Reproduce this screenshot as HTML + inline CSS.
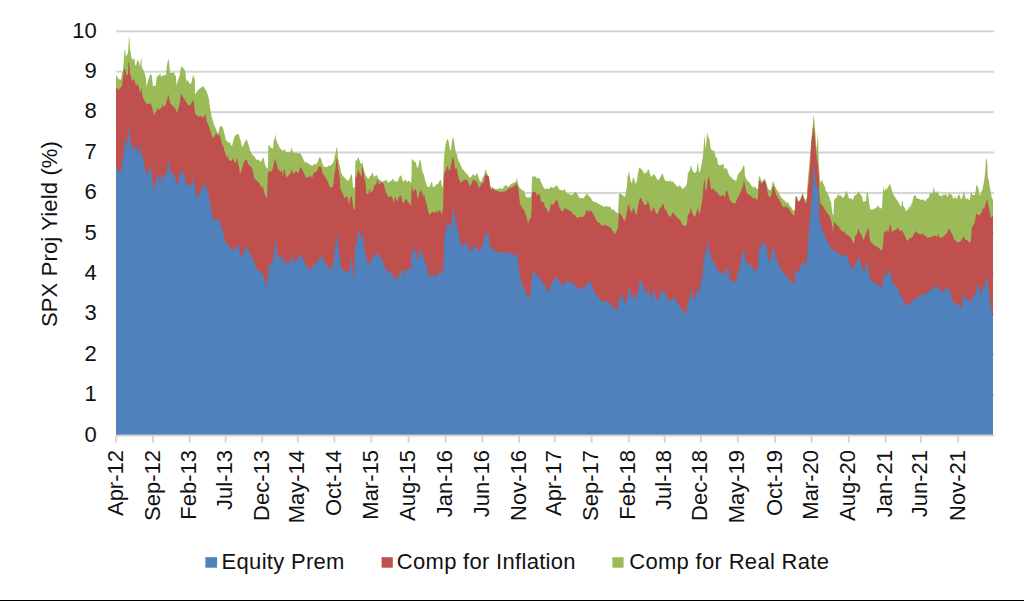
<!DOCTYPE html>
<html><head><meta charset="utf-8"><style>
html,body{margin:0;padding:0;background:#fff;width:1024px;height:601px;overflow:hidden}
svg{display:block}
</style></head><body>
<svg width="1024" height="601" viewBox="0 0 1024 601">
<rect width="1024" height="601" fill="#fff"/>
<rect x="116.2" y="393.90" width="877.8" height="2" fill="#d4d4d4"/>
<rect x="116.2" y="353.50" width="877.8" height="2" fill="#d4d4d4"/>
<rect x="116.2" y="313.10" width="877.8" height="2" fill="#d4d4d4"/>
<rect x="116.2" y="272.70" width="877.8" height="2" fill="#d4d4d4"/>
<rect x="116.2" y="232.30" width="877.8" height="2" fill="#d4d4d4"/>
<rect x="116.2" y="191.90" width="877.8" height="2" fill="#d4d4d4"/>
<rect x="116.2" y="151.50" width="877.8" height="2" fill="#d4d4d4"/>
<rect x="116.2" y="111.10" width="877.8" height="2" fill="#d4d4d4"/>
<rect x="116.2" y="70.70" width="877.8" height="2" fill="#d4d4d4"/>
<rect x="116.2" y="30.30" width="877.8" height="2" fill="#d4d4d4"/>
<path d="M116.0,435.0 L116.0,75.4 L116.0,75.4 L117.0,75.9 L118.0,78.4 L119.0,78.9 L120.0,79.4 L121.0,79.9 L122.0,72.9 L123.0,70.9 L123.5,63.9 L124.5,50.0 L125.0,49.5 L125.5,54.0 L126.0,55.9 L127.0,55.0 L128.0,53.0 L129.0,37.0 L129.5,38.0 L130.0,50.0 L130.5,51.0 L131.0,55.9 L132.0,58.9 L133.0,59.9 L134.0,57.9 L134.5,58.9 L135.0,63.9 L136.0,65.9 L137.0,60.9 L138.0,59.9 L139.0,61.9 L140.0,66.9 L141.0,58.9 L141.4,58.4 L141.9,67.9 L142.9,68.9 L143.9,70.9 L144.9,73.9 L145.9,77.9 L146.4,86.9 L147.9,80.9 L148.9,77.9 L149.9,74.9 L150.9,73.9 L151.9,75.9 L152.4,80.9 L152.9,85.9 L153.9,85.9 L154.9,85.9 L155.9,84.9 L156.4,78.9 L156.9,76.9 L157.9,75.9 L158.9,74.9 L159.9,73.9 L160.4,72.9 L160.9,76.9 L161.9,75.9 L162.9,75.9 L163.9,74.9 L164.9,74.9 L165.9,74.9 L166.9,65.9 L167.9,59.9 L168.4,59.4 L168.9,60.9 L169.4,65.9 L169.9,72.9 L170.9,72.9 L171.9,72.4 L172.9,72.9 L173.9,71.9 L174.9,74.9 L175.9,75.9 L176.4,84.9 L176.9,83.9 L177.9,79.9 L178.9,77.9 L179.9,73.9 L180.9,66.9 L181.9,66.4 L182.9,67.9 L183.9,68.9 L184.9,70.4 L185.4,71.9 L185.9,77.9 L186.9,81.9 L187.4,78.9 L187.9,80.9 L188.9,81.9 L189.9,83.9 L190.9,83.9 L191.8,80.9 L192.8,75.9 L193.3,74.9 L193.8,76.9 L194.8,78.9 L195.0,94.5 L198.0,90.0 L203.0,86.0 L205.9,90.0 L207.9,95.0 L208.9,99.0 L209.9,106.9 L211.9,117.9 L213.9,123.9 L215.9,128.9 L216.0,129.0 L217.0,132.0 L217.9,132.9 L218.0,134.0 L219.0,130.0 L219.9,126.9 L220.0,127.0 L221.0,126.0 L221.4,125.4 L222.0,126.5 L223.0,128.0 L223.9,131.9 L224.0,132.0 L225.0,135.9 L225.9,139.9 L226.0,139.9 L227.0,140.9 L228.0,141.9 L229.0,142.9 L230.0,141.9 L231.0,144.9 L232.0,145.9 L233.0,141.9 L234.0,137.9 L235.0,135.9 L236.0,135.0 L237.0,134.0 L238.0,134.0 L239.0,135.0 L240.0,138.9 L241.0,141.9 L241.9,146.9 L242.9,145.9 L243.9,143.9 L244.9,141.9 L245.9,139.9 L246.9,139.9 L247.9,142.9 L248.9,145.9 L249.9,149.9 L250.9,151.9 L251.9,153.9 L252.9,154.9 L253.9,155.9 L254.9,156.9 L255.9,158.9 L256.9,159.9 L257.9,159.4 L258.9,159.9 L259.9,160.9 L260.9,161.9 L261.9,159.9 L262.9,156.9 L263.9,158.9 L264.9,163.9 L265.9,166.9 L266.9,167.9 L267.9,168.9 L268.4,144.9 L269.9,145.9 L270.9,147.9 L271.9,147.9 L272.9,148.9 L273.9,139.9 L274.9,137.9 L275.4,134.0 L275.9,137.9 L276.9,141.9 L277.9,143.9 L278.9,145.9 L279.9,147.9 L280.9,148.9 L281.9,149.9 L282.9,150.9 L283.9,149.9 L284.9,148.9 L285.9,151.9 L286.9,151.9 L287.9,151.9 L288.9,152.4 L289.9,151.9 L290.9,150.9 L291.8,146.9 L292.8,151.9 L293.8,152.9 L294.8,152.9 L295.8,151.9 L296.8,152.9 L297.8,153.9 L298.8,152.9 L299.8,152.9 L300.8,153.9 L301.8,155.9 L302.8,157.9 L303.8,159.9 L304.8,161.9 L305.8,162.9 L306.8,161.9 L307.8,162.9 L308.8,163.9 L309.8,164.4 L310.8,164.9 L311.8,165.4 L312.8,165.9 L313.8,163.9 L314.8,163.9 L315.8,164.9 L316.0,163.9 L317.0,162.9 L318.0,160.9 L319.0,157.9 L320.0,156.9 L321.0,158.9 L322.0,161.9 L323.0,164.9 L324.0,166.9 L325.0,166.9 L326.0,166.9 L327.0,166.9 L328.0,165.9 L328.5,164.9 L329.0,165.9 L330.0,165.9 L331.0,164.9 L332.0,163.9 L333.0,162.9 L334.0,159.9 L335.0,154.9 L336.0,151.0 L336.5,147.0 L337.2,148.0 L338.0,157.9 L339.0,162.9 L340.0,165.9 L341.0,171.9 L341.9,173.9 L342.9,175.9 L343.9,176.9 L344.9,177.9 L345.9,178.9 L346.9,179.9 L347.9,180.9 L348.9,179.9 L349.9,177.9 L350.9,174.9 L351.4,173.9 L352.1,175.9 L352.9,186.9 L353.9,187.9 L354.9,186.9 L355.4,159.9 L356.4,160.9 L357.4,158.9 L358.4,156.9 L359.4,159.9 L360.4,162.9 L361.4,163.9 L362.4,161.9 L363.4,168.9 L364.4,171.9 L365.4,174.9 L366.4,175.9 L367.4,177.9 L368.4,178.9 L369.4,176.9 L370.4,175.9 L371.4,174.9 L372.4,171.9 L373.4,174.9 L374.4,176.9 L375.4,175.9 L376.4,174.9 L377.4,175.9 L378.4,178.9 L379.4,179.9 L380.4,179.9 L381.4,180.9 L382.4,181.9 L383.4,180.9 L384.4,180.9 L385.4,179.9 L386.4,179.9 L387.4,180.9 L388.4,182.9 L389.4,181.9 L390.4,180.9 L391.3,180.9 L392.3,178.9 L393.3,178.9 L394.3,180.9 L395.3,181.9 L396.3,180.9 L397.3,181.9 L398.3,179.9 L399.3,176.9 L400.3,175.9 L401.3,174.9 L402.3,179.9 L403.3,181.9 L404.3,180.9 L405.3,178.9 L406.3,180.9 L407.3,181.9 L408.3,180.9 L409.3,180.9 L410.3,181.9 L411.3,182.9 L411.8,159.9 L412.8,158.9 L413.8,160.9 L414.8,161.9 L415.8,161.9 L416.0,163.9 L417.0,166.9 L418.0,167.9 L419.0,162.9 L420.0,158.9 L421.0,162.9 L422.0,169.9 L423.0,172.9 L424.0,174.9 L425.0,179.9 L426.0,182.9 L427.0,185.9 L428.0,186.9 L429.0,186.9 L430.0,185.9 L431.0,182.9 L432.0,181.9 L433.0,186.9 L434.0,186.9 L435.0,185.9 L436.0,184.9 L437.0,183.9 L438.0,183.9 L439.0,181.9 L440.0,179.9 L441.0,179.9 L441.9,185.9 L442.9,186.9 L443.9,159.9 L444.9,149.0 L445.9,143.0 L446.9,140.0 L447.9,139.0 L448.9,143.0 L449.9,149.0 L450.9,151.0 L451.9,142.0 L452.9,137.0 L453.9,140.0 L454.9,147.0 L455.9,153.0 L456.9,154.0 L457.9,158.9 L458.9,161.9 L459.9,162.9 L460.9,165.9 L461.9,167.9 L462.9,169.9 L463.9,169.9 L464.9,171.9 L465.9,172.9 L466.9,173.9 L467.9,174.9 L468.9,176.9 L469.9,177.9 L470.9,176.9 L471.9,175.9 L472.9,173.9 L473.9,174.9 L474.9,175.9 L475.9,174.9 L476.9,172.9 L477.9,174.9 L478.9,177.9 L479.9,180.9 L480.9,181.9 L481.9,179.9 L482.9,176.9 L483.9,175.9 L484.9,171.9 L485.9,168.9 L486.9,173.9 L487.9,173.9 L488.9,177.9 L489.9,185.9 L490.9,186.9 L491.8,187.9 L492.8,186.9 L493.8,187.9 L494.8,188.9 L495.8,188.9 L496.8,188.9 L497.8,188.9 L498.8,188.9 L499.8,187.9 L500.8,187.9 L501.8,188.9 L502.8,188.9 L503.8,186.9 L504.8,185.9 L505.8,184.9 L506.8,185.9 L507.8,186.9 L508.8,185.9 L509.8,185.9 L510.8,183.9 L511.8,183.9 L512.8,182.9 L513.8,182.9 L514.8,181.9 L515.8,181.9 L516.0,181.0 L517.0,178.0 L518.0,184.0 L519.0,187.0 L520.0,188.0 L521.0,189.0 L522.0,190.0 L523.0,191.0 L524.0,190.0 L525.0,193.9 L526.0,196.9 L527.0,196.9 L528.0,197.9 L529.0,196.9 L530.0,197.9 L531.0,195.9 L531.5,194.9 L532.0,177.0 L533.0,176.5 L534.0,176.5 L535.0,176.5 L536.0,176.5 L537.0,179.0 L538.0,178.0 L539.0,178.0 L540.0,179.0 L541.0,182.0 L541.9,184.0 L542.9,186.0 L543.9,188.0 L544.9,189.0 L545.9,189.0 L546.9,188.0 L547.9,189.0 L548.9,189.0 L549.9,188.0 L550.9,186.0 L551.9,188.0 L552.9,188.0 L553.9,187.0 L554.9,187.0 L555.9,186.0 L556.9,185.0 L557.9,187.0 L558.9,189.0 L559.9,190.0 L560.9,190.0 L561.9,190.0 L562.9,191.0 L563.9,190.0 L564.9,189.0 L565.9,192.0 L566.9,193.0 L567.9,193.9 L568.9,193.9 L569.9,193.9 L570.9,194.9 L571.9,194.9 L572.9,193.9 L573.9,193.0 L574.9,192.0 L575.9,192.0 L576.9,193.0 L577.9,194.9 L578.9,196.9 L579.9,197.9 L580.9,197.9 L581.9,197.9 L582.9,197.9 L583.9,197.9 L584.9,195.9 L585.9,194.9 L586.9,193.0 L587.9,194.9 L588.9,195.9 L589.9,196.9 L590.9,197.9 L591.8,199.9 L592.8,200.9 L593.8,201.9 L594.8,201.9 L595.8,201.9 L596.8,202.9 L597.8,203.4 L598.8,203.9 L599.8,204.4 L600.8,204.9 L601.8,205.4 L602.8,205.9 L603.8,206.4 L604.8,206.9 L605.8,205.9 L606.8,205.9 L607.8,206.9 L608.8,206.9 L609.8,205.9 L610.8,207.9 L611.8,209.9 L612.8,208.9 L613.8,209.9 L614.8,210.9 L615.8,211.9 L616.0,212.9 L617.0,211.9 L618.0,213.9 L619.0,194.0 L620.0,193.5 L621.0,194.0 L622.0,195.0 L623.0,195.5 L624.0,196.0 L625.0,197.0 L626.0,192.0 L627.0,186.0 L627.5,175.9 L628.5,173.9 L629.2,170.9 L630.0,177.9 L631.0,181.9 L632.0,182.9 L633.0,176.9 L634.0,178.9 L635.0,181.9 L636.0,183.9 L637.0,179.9 L638.0,172.9 L639.0,167.9 L640.0,167.4 L641.0,168.9 L641.9,169.9 L642.9,170.9 L643.9,172.9 L644.9,173.9 L645.9,171.9 L646.9,172.9 L647.9,168.9 L648.9,169.9 L649.9,173.9 L650.9,175.9 L651.9,176.9 L652.9,174.9 L653.9,173.9 L654.9,174.9 L655.9,176.9 L656.9,178.9 L657.9,179.9 L658.9,179.9 L659.9,177.9 L660.9,175.9 L661.9,173.9 L662.9,173.9 L663.9,177.9 L664.9,179.9 L665.9,180.9 L666.9,180.9 L667.9,180.9 L668.9,181.9 L669.9,179.9 L670.9,180.9 L671.9,181.9 L672.9,180.9 L673.9,182.9 L674.9,183.9 L675.9,184.9 L676.9,185.9 L677.9,186.9 L678.9,185.9 L679.9,184.9 L680.9,186.9 L681.9,187.9 L682.9,188.9 L683.9,187.9 L684.9,186.9 L685.9,185.9 L686.9,183.9 L687.9,172.9 L688.9,171.9 L689.9,169.9 L690.9,164.9 L691.8,167.9 L692.8,170.9 L693.8,172.9 L694.8,171.9 L695.8,172.9 L696.8,169.9 L697.6,162.9 L698.3,163.9 L698.8,171.9 L699.8,171.9 L700.8,167.9 L701.8,162.9 L702.8,157.9 L703.8,145.0 L704.3,135.0 L704.8,140.0 L705.8,149.0 L706.8,135.0 L707.3,132.0 L707.8,136.0 L708.8,138.0 L709.8,141.0 L710.8,149.0 L711.8,150.0 L712.8,151.0 L713.8,150.0 L714.8,153.0 L715.8,157.9 L716.0,157.0 L717.0,158.0 L718.0,164.0 L719.0,165.0 L720.0,165.5 L721.0,165.0 L722.0,164.5 L723.0,164.0 L723.5,163.0 L724.0,168.0 L725.0,169.0 L726.0,168.0 L727.0,169.0 L728.0,172.0 L729.0,175.0 L730.0,175.9 L731.0,176.9 L732.0,177.9 L733.0,178.9 L734.0,179.9 L735.0,179.9 L736.0,180.9 L737.0,177.9 L738.0,174.0 L739.0,173.0 L740.0,172.0 L741.0,171.0 L741.9,169.0 L742.9,167.0 L743.9,165.0 L744.4,166.0 L744.9,175.9 L745.9,177.9 L746.9,179.9 L747.9,180.9 L748.9,181.9 L749.9,182.9 L750.9,184.9 L751.9,185.9 L752.9,186.9 L753.9,187.9 L754.9,185.9 L755.9,187.9 L756.9,188.9 L757.9,188.9 L758.9,176.9 L759.9,175.9 L760.9,179.9 L761.9,180.9 L762.9,181.9 L763.9,179.9 L764.9,177.9 L765.9,181.9 L766.9,184.9 L767.9,187.9 L768.9,189.9 L769.9,189.9 L770.9,189.9 L771.9,185.9 L772.9,180.9 L773.9,182.9 L774.9,185.9 L775.9,187.9 L776.9,189.9 L777.9,190.9 L778.9,192.9 L779.9,194.9 L780.9,196.9 L781.9,197.9 L782.9,198.9 L783.9,199.9 L784.9,200.9 L785.9,201.9 L786.9,202.9 L787.9,201.9 L788.9,203.9 L789.9,205.9 L790.9,206.9 L791.8,207.9 L792.8,209.9 L793.8,210.9 L794.8,209.9 L795.8,195.9 L796.8,196.9 L797.8,199.9 L798.8,200.9 L799.8,199.9 L800.8,197.9 L801.8,194.9 L802.8,191.9 L803.8,196.9 L804.8,198.9 L805.8,199.9 L806.8,197.9 L807.8,179.9 L808.8,170.0 L809.6,161.6 L811.2,141.3 L812.7,125.6 L813.8,113.9 L815.1,128.8 L816.6,150.7 L817.9,131.9 L819.0,167.9 L820.0,181.0 L821.0,182.0 L822.0,179.0 L823.0,183.0 L824.0,185.0 L825.0,187.0 L826.0,192.0 L827.0,191.0 L828.0,195.0 L829.0,196.0 L830.0,199.9 L831.0,201.9 L832.0,209.9 L832.8,214.9 L833.5,214.9 L834.0,199.9 L835.0,198.9 L836.0,197.9 L837.0,197.0 L838.0,194.0 L839.0,195.0 L840.0,196.0 L841.0,195.0 L841.9,197.0 L842.9,197.9 L843.9,197.0 L844.9,195.0 L845.9,191.0 L846.9,192.0 L847.9,195.0 L848.9,197.9 L849.9,198.9 L850.9,197.9 L851.9,198.9 L852.9,199.9 L853.9,197.0 L854.9,195.0 L855.9,195.0 L856.9,194.0 L857.9,193.0 L858.9,191.0 L859.9,194.0 L860.9,195.0 L861.9,196.0 L862.9,200.9 L863.9,201.9 L864.9,200.9 L865.9,200.9 L866.9,192.0 L867.9,193.0 L868.9,200.9 L869.9,207.9 L870.9,209.9 L871.9,208.9 L872.9,209.9 L873.9,207.9 L874.9,208.9 L875.9,207.9 L876.9,206.9 L877.9,204.9 L878.9,206.9 L879.9,207.9 L880.9,207.9 L881.9,208.9 L882.9,192.0 L883.4,186.0 L883.9,190.0 L884.9,191.0 L885.9,188.0 L886.9,190.0 L887.9,187.0 L888.9,186.0 L889.9,183.0 L890.9,187.0 L891.8,190.0 L892.8,193.0 L893.8,195.0 L894.8,197.0 L895.8,197.9 L896.8,199.9 L897.8,200.9 L898.8,202.9 L899.8,204.9 L900.0,204.9 L900.8,206.9 L901.0,205.9 L901.8,204.9 L902.0,200.9 L902.8,200.9 L903.0,205.9 L903.8,205.9 L904.0,206.9 L904.8,207.9 L905.0,207.9 L905.8,210.9 L906.0,209.9 L906.8,210.9 L907.8,208.9 L908.0,209.9 L908.8,206.9 L909.0,206.9 L909.8,205.9 L910.0,208.9 L910.8,204.9 L911.0,205.9 L911.8,201.9 L912.0,203.9 L912.8,198.9 L913.0,198.9 L913.8,196.0 L914.0,195.9 L914.8,195.0 L915.0,194.9 L915.8,196.0 L916.0,196.9 L917.0,197.9 L918.0,198.9 L919.0,198.9 L920.0,198.9 L921.0,199.9 L922.0,199.9 L923.0,198.9 L924.0,199.9 L925.0,200.9 L925.9,200.9 L926.9,197.9 L927.9,198.9 L928.9,196.9 L929.9,192.9 L930.9,192.9 L931.9,193.9 L932.9,191.9 L933.9,186.9 L934.9,191.9 L935.9,192.9 L936.9,191.9 L937.9,190.9 L938.9,194.9 L939.9,195.9 L940.9,194.9 L941.9,196.9 L942.9,193.9 L943.9,194.9 L944.9,194.9 L945.9,192.9 L946.9,195.9 L947.9,196.9 L948.9,191.9 L949.9,193.9 L950.9,194.9 L951.9,193.9 L952.9,197.9 L953.9,198.9 L954.9,195.9 L955.9,197.9 L956.9,198.9 L957.9,195.9 L958.9,193.9 L959.9,195.9 L960.9,198.9 L961.9,198.9 L962.9,194.9 L963.9,190.9 L964.9,195.9 L965.9,198.9 L966.9,198.9 L967.9,197.9 L968.9,199.9 L969.9,199.9 L970.9,191.9 L971.9,193.9 L972.9,194.9 L973.9,194.9 L974.9,194.9 L975.8,189.9 L976.3,184.9 L977.3,185.9 L978.3,187.9 L979.3,193.9 L980.3,195.9 L981.3,191.9 L982.3,189.9 L983.3,184.9 L984.3,179.9 L985.3,170.0 L986.0,158.0 L986.8,160.0 L987.3,163.0 L987.8,177.9 L988.8,179.9 L989.8,186.9 L990.8,191.9 L991.8,197.9 L992.8,198.9 L993.0,200.0 L993.0,200.0 L993.0,435.0 Z" fill="#9bbb59"/>
<path d="M116.0,435.0 L116.0,86.9 L116.0,86.9 L117.0,87.9 L118.0,89.9 L122.0,85.9 L123.0,77.9 L124.0,69.9 L125.0,67.9 L126.0,72.9 L127.0,75.9 L128.0,73.9 L128.5,62.9 L129.0,61.9 L129.5,63.9 L130.0,74.0 L131.0,77.0 L132.0,81.0 L133.0,80.0 L134.0,79.0 L135.0,82.0 L136.0,85.9 L137.0,84.0 L138.0,85.0 L139.0,86.9 L140.0,92.9 L141.0,89.9 L141.5,86.9 L142.0,92.9 L143.0,97.9 L144.0,99.9 L145.0,100.9 L146.0,102.9 L147.0,103.9 L148.0,103.9 L149.0,103.9 L150.0,102.9 L151.0,103.9 L152.0,106.9 L153.0,110.9 L154.0,115.9 L155.0,112.9 L155.9,111.9 L156.9,109.9 L157.9,107.9 L158.9,109.9 L159.9,108.9 L160.9,107.9 L161.9,106.9 L162.9,103.9 L163.9,106.9 L164.9,105.9 L165.9,103.9 L166.9,99.9 L167.9,96.9 L168.4,93.9 L168.9,96.9 L169.9,101.9 L170.9,103.9 L171.9,104.9 L172.9,105.9 L173.9,106.9 L174.9,107.9 L175.9,109.9 L176.9,112.9 L177.9,109.9 L178.9,106.9 L179.9,101.9 L180.9,93.9 L181.9,94.9 L182.9,96.9 L183.9,97.9 L184.9,99.9 L185.9,101.9 L186.9,102.9 L187.9,104.9 L188.9,104.9 L189.9,105.9 L190.9,103.9 L191.9,101.9 L192.9,99.9 L193.9,102.9 L194.9,112.9 L195.9,114.9 L196.9,114.9 L197.9,115.9 L198.9,116.9 L199.9,115.9 L200.9,115.9 L201.9,116.9 L202.9,117.9 L203.9,116.9 L204.9,113.9 L205.8,114.9 L206.9,121.9 L207.9,123.9 L209.9,128.9 L211.9,135.9 L213.9,137.9 L216.0,133.0 L216.9,133.9 L217.0,134.0 L218.0,135.0 L218.9,135.9 L219.0,134.0 L220.0,135.9 L221.0,139.9 L222.0,143.9 L223.0,146.9 L223.5,144.9 L224.0,149.9 L225.0,151.9 L226.0,155.9 L227.0,157.9 L227.5,153.9 L228.0,156.9 L229.0,159.9 L230.0,160.9 L231.0,160.9 L232.0,159.9 L233.0,157.9 L234.0,160.9 L235.0,162.9 L236.0,161.9 L237.0,156.9 L238.0,162.9 L239.0,166.9 L239.8,171.9 L240.0,174.0 L241.0,172.0 L242.0,169.0 L243.0,165.0 L244.0,162.0 L245.0,161.0 L246.0,159.5 L247.0,160.0 L248.0,164.0 L249.0,165.0 L250.0,166.0 L251.0,167.0 L252.0,168.0 L253.0,172.0 L254.0,177.9 L255.0,178.9 L256.0,179.9 L257.0,180.9 L258.0,181.9 L259.0,182.9 L260.0,183.9 L261.0,186.9 L262.0,187.9 L263.0,185.9 L264.0,191.9 L265.0,193.9 L265.9,196.9 L266.9,198.9 L267.9,173.0 L268.9,172.0 L269.9,171.0 L270.9,171.5 L271.9,171.0 L272.9,168.0 L273.9,164.0 L274.9,158.0 L275.9,162.0 L276.9,165.0 L277.9,169.0 L278.9,170.0 L279.9,171.0 L280.9,172.0 L281.9,170.0 L282.9,175.9 L283.9,169.0 L284.9,170.0 L285.9,177.9 L286.9,176.9 L287.9,175.9 L288.9,175.0 L289.9,174.0 L290.9,173.0 L291.4,168.0 L291.9,170.0 L292.9,173.0 L293.9,174.0 L294.9,172.0 L295.9,171.0 L296.9,172.0 L297.9,174.0 L298.9,172.0 L299.9,168.0 L300.9,167.0 L301.9,169.0 L302.9,171.0 L303.9,173.0 L304.9,175.0 L305.9,177.9 L306.9,177.9 L307.9,175.9 L308.9,176.9 L309.9,176.9 L310.9,175.0 L311.9,178.9 L312.9,175.0 L313.9,172.0 L314.9,173.0 L315.8,172.0 L316.8,171.0 L317.8,169.0 L318.8,167.0 L319.8,166.0 L320.8,167.0 L321.8,169.0 L322.8,174.0 L323.8,175.0 L324.8,175.9 L325.8,177.9 L326.8,179.9 L327.8,180.9 L328.8,183.9 L329.8,186.9 L330.8,187.9 L331.8,186.9 L332.8,186.9 L333.5,183.9 L333.8,179.9 L334.5,170.9 L334.8,175.0 L335.5,167.9 L335.8,166.0 L336.5,157.9 L336.8,158.0 L337.2,158.9 L337.8,162.0 L338.0,169.9 L338.8,170.0 L339.0,177.9 L339.8,173.0 L340.0,185.9 L340.0,188.9 L341.0,187.9 L341.0,189.9 L342.0,191.9 L343.0,193.9 L344.0,196.9 L345.0,197.9 L346.0,196.9 L347.0,195.9 L348.0,198.9 L349.0,204.9 L350.0,198.9 L351.0,195.9 L352.0,196.9 L353.0,205.9 L354.0,208.9 L355.0,209.9 L355.5,178.0 L356.5,177.0 L357.5,172.0 L358.5,170.0 L359.5,173.0 L360.5,175.0 L361.5,177.0 L362.5,165.0 L363.5,170.0 L364.5,179.0 L365.4,180.9 L366.4,192.9 L367.4,193.9 L368.4,193.9 L369.4,187.9 L370.4,192.9 L371.4,191.9 L372.4,190.9 L373.4,188.9 L374.4,184.9 L375.4,184.9 L376.4,183.9 L377.4,180.0 L377.9,179.0 L378.9,183.9 L379.9,183.9 L380.9,182.9 L381.9,181.9 L382.9,182.9 L383.9,184.9 L384.9,188.9 L385.9,191.9 L386.9,193.9 L387.9,195.9 L388.9,197.9 L389.9,195.9 L390.9,195.9 L391.9,196.9 L392.9,198.9 L393.9,203.9 L394.9,196.9 L395.9,196.9 L396.9,201.9 L397.9,199.9 L398.9,196.9 L399.9,195.9 L400.9,194.9 L401.9,198.9 L402.9,202.9 L403.9,202.9 L404.9,199.9 L405.9,198.9 L406.9,199.9 L407.9,201.9 L408.9,202.9 L409.9,203.9 L410.9,205.9 L411.7,184.9 L412.4,187.9 L413.4,191.9 L414.4,189.9 L415.3,188.9 L416.3,189.9 L417.3,196.9 L418.3,198.9 L419.3,192.9 L420.3,190.9 L421.3,189.9 L422.3,192.9 L423.3,195.9 L424.3,194.9 L425.3,199.9 L426.3,202.9 L427.3,206.9 L428.3,211.9 L429.3,214.9 L430.3,213.9 L431.3,212.9 L432.3,211.9 L433.3,211.9 L434.3,212.9 L435.3,211.9 L436.3,210.9 L437.3,212.9 L438.3,210.9 L439.3,209.9 L440.3,211.3 L441.9,214.5 L443.1,208.2 L443.9,175.9 L444.9,171.9 L445.9,169.9 L446.9,166.9 L447.9,165.9 L448.9,169.9 L449.9,170.9 L450.9,165.9 L451.9,159.9 L452.9,155.9 L453.9,159.9 L454.9,167.9 L455.9,168.9 L456.9,167.9 L457.9,174.9 L458.9,178.9 L459.9,180.9 L460.9,182.9 L461.9,181.9 L462.9,179.9 L463.9,180.9 L464.9,179.9 L465.9,178.9 L466.9,179.9 L467.9,181.9 L468.9,183.9 L469.9,185.9 L470.9,184.9 L471.9,182.9 L472.9,179.9 L473.9,178.9 L474.9,181.9 L475.9,179.9 L476.9,181.9 L477.9,184.9 L478.9,187.9 L479.9,186.9 L480.9,184.9 L481.9,182.9 L482.9,182.9 L483.9,181.9 L484.9,175.9 L485.9,173.9 L486.9,175.9 L487.9,175.9 L488.9,176.9 L489.9,183.9 L490.9,188.9 L491.8,189.9 L491.9,187.9 L493.5,189.4 L495.1,190.2 L496.6,191.0 L498.2,191.0 L499.8,192.6 L501.3,191.8 L502.9,191.8 L504.5,191.8 L506.0,191.0 L507.6,189.4 L509.1,187.9 L510.7,187.9 L512.3,187.1 L513.8,186.3 L515.4,185.5 L516.0,183.0 L517.0,184.0 L518.0,187.0 L519.0,193.9 L520.0,203.9 L521.0,204.9 L522.0,207.9 L523.0,208.9 L524.0,209.9 L525.0,211.9 L526.0,215.9 L527.0,217.9 L528.0,224.9 L529.0,219.9 L530.0,218.9 L531.0,216.9 L531.5,209.9 L532.0,193.0 L533.0,192.0 L534.0,192.0 L535.0,192.0 L536.0,193.0 L537.0,195.9 L538.0,193.9 L539.0,193.9 L540.0,194.9 L541.0,201.9 L541.9,201.9 L542.9,201.9 L543.9,202.9 L544.9,206.9 L545.9,207.9 L546.9,208.9 L547.9,211.9 L548.9,211.9 L549.9,208.9 L550.9,203.9 L551.9,203.9 L552.9,204.9 L553.9,203.9 L554.9,201.9 L555.9,200.9 L556.9,198.9 L557.9,201.9 L558.9,205.9 L559.9,207.9 L560.9,209.9 L561.9,211.9 L562.9,210.9 L563.9,209.9 L564.9,206.9 L565.9,208.9 L566.9,208.9 L567.9,209.9 L568.9,209.9 L569.9,210.9 L570.9,211.9 L571.9,211.9 L572.9,214.9 L573.9,213.9 L574.9,214.9 L575.9,215.9 L576.9,217.9 L577.9,217.9 L578.9,216.9 L579.9,216.9 L580.9,216.9 L581.9,216.9 L582.9,216.9 L583.9,215.9 L584.9,214.9 L585.9,210.9 L586.9,209.9 L587.9,210.9 L588.9,211.9 L589.9,210.9 L590.9,209.9 L591.8,211.9 L592.8,212.9 L593.8,214.9 L594.8,216.9 L595.8,218.9 L596.8,220.9 L597.8,221.9 L598.8,222.9 L599.8,222.9 L600.8,223.9 L601.8,225.9 L602.8,225.9 L603.8,224.9 L604.8,224.9 L605.8,224.9 L606.8,225.9 L607.8,225.9 L608.8,226.9 L609.8,226.9 L610.8,227.9 L612.8,231.2 L615.2,234.3 L616.0,231.9 L617.0,229.9 L618.0,226.9 L619.0,212.9 L620.0,212.9 L621.0,214.9 L622.0,215.9 L623.0,218.9 L624.0,219.9 L625.0,220.9 L626.0,215.9 L627.0,210.9 L628.0,205.9 L629.0,203.9 L630.0,209.9 L631.0,210.9 L632.0,212.9 L633.0,207.9 L634.0,208.9 L635.0,211.9 L636.0,214.9 L637.0,212.9 L638.0,205.9 L639.0,201.0 L640.0,198.0 L641.0,198.0 L641.9,200.0 L642.9,201.9 L643.9,203.9 L644.9,204.9 L645.9,204.9 L646.9,203.9 L647.9,200.0 L648.9,203.9 L649.9,207.9 L650.9,210.9 L651.9,211.9 L652.9,206.9 L653.9,207.9 L654.9,209.9 L655.9,212.9 L656.9,213.9 L657.9,212.9 L658.9,210.9 L659.9,207.9 L660.9,206.9 L661.9,205.9 L662.9,202.9 L663.9,205.9 L664.9,208.9 L665.9,209.9 L666.9,211.9 L667.9,213.9 L668.9,215.9 L669.9,216.9 L670.9,215.9 L671.9,213.9 L672.9,211.9 L673.9,213.9 L674.9,214.9 L675.9,215.9 L676.9,216.9 L677.9,218.9 L678.9,218.9 L679.9,219.9 L680.9,220.9 L681.9,223.9 L682.9,224.9 L683.9,225.9 L684.9,224.9 L685.9,226.9 L686.9,223.9 L687.9,214.9 L688.9,213.9 L689.9,211.9 L690.9,206.9 L691.8,211.9 L692.8,213.9 L693.8,215.9 L694.8,216.9 L695.8,214.9 L696.8,210.9 L697.8,207.9 L698.8,211.9 L699.8,213.9 L700.8,207.9 L701.8,202.9 L702.8,196.0 L703.8,182.0 L704.3,179.0 L704.8,181.0 L705.8,191.0 L706.8,189.0 L707.8,179.0 L708.8,176.0 L709.8,181.0 L710.8,188.0 L711.8,190.0 L712.8,189.0 L713.8,188.0 L714.8,191.0 L715.8,192.0 L716.0,190.9 L717.0,191.9 L718.0,193.9 L719.0,194.9 L720.0,195.9 L721.0,195.9 L722.0,195.9 L723.0,193.9 L724.0,195.9 L725.0,196.9 L726.0,189.9 L727.0,190.9 L728.0,192.9 L729.0,197.9 L730.0,199.9 L731.0,200.9 L732.0,202.9 L733.0,202.9 L734.0,202.9 L735.0,203.9 L736.0,201.9 L737.0,198.9 L738.0,196.9 L739.0,195.9 L740.0,192.9 L741.0,190.9 L741.9,187.9 L742.9,186.9 L743.9,179.9 L744.9,184.9 L745.9,189.9 L746.9,192.9 L747.9,193.9 L748.9,194.9 L749.9,194.9 L750.9,195.9 L751.9,196.9 L752.9,197.9 L753.9,198.9 L754.9,196.9 L755.9,198.9 L756.9,199.9 L757.9,197.9 L758.9,180.9 L759.9,180.9 L760.9,182.9 L761.9,183.9 L762.9,181.9 L763.9,179.9 L764.9,180.9 L765.9,182.9 L766.9,188.9 L767.9,193.9 L768.9,196.9 L769.9,196.9 L770.9,195.9 L771.9,191.9 L772.9,185.9 L773.9,186.9 L774.9,189.9 L775.9,193.9 L776.9,195.9 L777.9,197.9 L778.9,198.9 L779.9,200.9 L780.9,202.9 L781.9,204.9 L782.9,206.9 L783.9,206.9 L784.9,205.9 L785.9,207.9 L786.9,205.9 L787.9,207.9 L788.9,208.9 L789.9,209.9 L790.0,210.3 L791.6,213.5 L793.2,215.0 L794.4,215.8 L794.8,209.9 L795.8,195.9 L796.8,196.9 L797.8,200.9 L798.8,201.9 L799.8,200.9 L800.8,198.9 L801.8,195.9 L802.8,194.9 L803.8,198.9 L804.8,201.9 L805.8,202.9 L806.8,201.9 L807.8,187.9 L808.8,181.9 L809.6,172.6 L811.2,142.8 L812.7,131.9 L813.8,125.6 L815.1,141.3 L816.6,156.9 L817.9,164.7 L819.0,175.7 L819.0,187.0 L820.0,202.0 L821.0,204.0 L822.0,205.0 L823.0,206.0 L824.0,208.0 L825.0,210.0 L826.0,211.0 L827.0,213.0 L828.0,214.0 L829.0,215.0 L830.0,217.0 L831.0,220.0 L832.0,224.0 L833.0,231.9 L834.0,221.0 L835.0,223.0 L836.0,224.0 L837.0,225.0 L838.0,225.9 L839.0,226.9 L840.0,228.9 L841.0,229.9 L841.9,230.9 L842.9,231.9 L843.9,230.9 L844.9,232.9 L845.9,233.9 L846.9,234.9 L847.9,234.9 L848.9,235.9 L849.9,236.9 L850.9,237.9 L851.9,239.9 L852.9,241.9 L853.9,243.9 L854.9,236.9 L855.9,234.9 L856.9,233.9 L857.9,230.9 L858.9,227.9 L859.9,233.9 L860.9,232.9 L861.9,235.9 L862.9,238.9 L863.9,239.9 L864.9,235.9 L865.9,232.9 L866.9,231.9 L867.9,226.9 L868.9,229.9 L869.9,239.9 L870.9,241.9 L871.9,242.9 L872.9,243.9 L873.9,244.9 L874.9,245.9 L875.9,245.9 L876.9,246.9 L877.9,246.9 L878.9,247.9 L879.9,248.9 L880.9,249.9 L881.9,250.9 L882.9,245.9 L883.9,231.9 L884.9,230.9 L885.9,231.9 L886.9,228.9 L887.9,232.9 L888.9,229.9 L889.9,224.0 L890.9,226.9 L891.8,230.9 L892.8,231.9 L893.8,229.9 L894.8,229.9 L895.8,229.9 L896.8,228.9 L897.8,226.9 L898.8,228.9 L899.8,231.9 L900.0,230.9 L901.0,229.9 L902.0,230.9 L903.0,231.9 L904.0,233.9 L905.0,235.9 L906.0,238.9 L907.0,239.9 L908.0,240.9 L909.0,238.9 L910.0,237.9 L911.0,237.9 L912.0,236.9 L913.0,235.9 L914.0,233.9 L915.0,231.9 L916.0,230.9 L917.0,232.9 L918.0,232.9 L919.0,233.9 L920.0,233.9 L921.0,233.9 L922.0,234.9 L923.0,232.9 L924.0,234.9 L925.0,235.9 L925.9,235.9 L926.9,236.9 L927.9,237.9 L928.9,236.9 L929.9,237.9 L930.9,236.9 L931.9,236.9 L932.9,235.9 L933.9,235.9 L934.9,234.9 L935.9,235.9 L936.9,236.9 L937.9,233.9 L938.9,235.9 L939.9,237.9 L940.9,236.9 L941.9,237.9 L942.9,236.9 L943.9,235.9 L944.9,234.9 L945.9,233.9 L946.9,232.9 L947.9,230.9 L948.9,227.9 L949.9,229.9 L950.9,231.9 L951.9,233.9 L952.9,235.9 L953.9,238.9 L954.9,239.9 L955.9,240.9 L956.9,241.9 L957.9,241.9 L958.9,241.9 L959.9,241.9 L960.9,240.9 L961.9,238.9 L962.9,237.9 L963.9,235.9 L964.9,238.9 L965.9,239.9 L966.9,239.9 L967.9,240.9 L968.9,241.9 L969.9,242.9 L970.9,239.9 L971.9,226.9 L972.9,225.9 L973.9,223.9 L974.9,221.9 L975.8,215.9 L976.8,213.0 L977.8,215.0 L978.8,215.0 L979.8,215.0 L980.8,214.0 L981.8,212.0 L982.8,208.0 L983.8,209.0 L984.8,207.0 L985.8,203.0 L986.8,200.0 L987.3,200.0 L987.8,203.0 L988.8,207.0 L989.8,212.0 L990.8,217.9 L991.8,216.9 L992.8,215.9 L993.0,217.3 L993.0,217.3 L993.0,435.0 Z" fill="#c0504d"/>
<path d="M116.0,435.0 L116.0,166.9 L116.0,166.9 L117.0,167.9 L118.0,168.9 L119.0,171.9 L120.0,171.9 L121.0,171.9 L122.0,162.9 L123.0,158.9 L124.0,152.9 L125.0,137.0 L126.0,139.0 L127.0,144.9 L128.0,140.0 L129.0,122.0 L130.0,137.0 L131.0,144.9 L132.0,145.9 L133.0,149.9 L134.0,143.9 L135.0,146.9 L136.0,152.9 L137.0,145.9 L138.0,147.9 L139.0,152.9 L140.0,154.9 L141.0,144.9 L141.4,143.9 L141.9,153.9 L142.9,157.9 L143.9,161.9 L144.9,166.9 L145.9,172.9 L146.9,174.9 L147.9,171.9 L148.9,169.9 L149.1,171.9 L150.0,167.0 L151.0,166.0 L152.0,177.0 L153.0,184.0 L154.0,191.9 L155.0,185.9 L156.0,179.0 L157.0,176.0 L158.0,175.0 L159.0,182.0 L160.0,174.0 L161.0,175.0 L162.0,185.0 L163.0,177.0 L164.0,176.0 L165.0,175.0 L166.0,175.0 L167.0,170.0 L168.0,163.0 L169.0,160.0 L170.0,172.0 L171.0,171.0 L172.0,173.0 L173.0,174.0 L174.0,175.0 L175.0,178.0 L175.9,181.0 L176.9,186.9 L177.9,183.0 L178.9,180.0 L179.9,173.0 L180.9,171.0 L181.9,171.0 L182.9,173.0 L183.9,175.0 L184.9,176.0 L185.9,185.0 L186.9,184.0 L187.9,184.0 L188.9,185.9 L189.9,186.9 L190.9,185.0 L191.9,184.0 L192.9,176.0 L193.9,183.0 L194.9,184.0 L195.9,196.9 L196.9,197.9 L197.9,194.9 L198.9,193.9 L199.9,192.9 L200.9,190.9 L201.9,187.9 L202.9,184.0 L203.9,188.9 L204.9,184.0 L205.9,183.0 L206.9,189.9 L207.9,191.9 L208.9,195.9 L209.9,201.9 L210.9,207.9 L211.9,212.9 L212.9,216.9 L213.9,218.9 L214.9,219.9 L216.9,219.9 L218.9,218.9 L219.9,219.9 L221.0,226.9 L222.6,228.5 L224.2,239.4 L225.7,242.6 L227.3,244.1 L228.9,245.7 L230.4,248.8 L232.0,250.4 L233.6,248.8 L235.1,249.6 L236.7,245.7 L238.3,244.1 L239.8,253.5 L241.4,256.6 L242.9,255.1 L244.5,248.8 L246.1,247.3 L247.6,248.8 L249.2,251.9 L250.8,255.1 L252.3,258.2 L253.9,261.3 L255.5,266.0 L257.0,269.1 L258.6,270.7 L260.0,272.9 L260.1,272.3 L261.6,272.9 L261.7,273.1 L263.1,274.4 L263.3,273.8 L264.7,280.7 L266.3,286.9 L266.4,273.8 L267.5,288.5 L268.6,265.0 L270.2,264.3 L272.5,263.5 L274.1,251.0 L275.3,237.7 L276.4,249.4 L278.0,256.4 L279.6,257.2 L281.1,258.8 L282.7,255.7 L283.5,265.0 L284.7,256.4 L285.8,264.3 L287.4,263.5 L288.9,262.7 L290.5,260.4 L291.7,252.5 L292.8,261.9 L294.4,261.9 L296.0,259.6 L297.5,258.8 L299.1,257.2 L300.7,254.1 L302.2,257.2 L303.8,260.4 L305.4,265.0 L306.9,266.6 L308.5,268.2 L310.0,268.2 L311.6,271.3 L313.2,265.0 L314.7,261.9 L316.3,263.5 L317.9,261.9 L319.4,257.2 L321.0,255.7 L322.6,258.8 L324.1,261.9 L325.7,263.5 L327.3,265.0 L328.8,268.2 L330.4,271.3 L331.9,266.6 L333.5,263.5 L335.1,246.3 L336.6,233.8 L338.2,246.3 L339.8,257.2 L341.3,268.2 L342.9,269.7 L344.5,271.3 L346.0,272.9 L347.6,269.7 L349.1,274.4 L350.7,261.9 L352.0,257.2 L353.1,276.0 L354.3,279.1 L355.4,244.7 L357.0,243.2 L358.5,229.1 L360.1,233.8 L361.7,240.0 L362.9,230.6 L364.0,246.3 L365.6,254.1 L367.1,261.9 L368.7,263.5 L370.3,263.5 L371.8,258.8 L373.4,257.2 L375.0,255.7 L376.5,254.1 L378.1,253.3 L379.6,257.2 L381.2,258.0 L382.8,260.4 L384.3,266.6 L385.9,268.2 L387.5,271.3 L389.0,274.4 L390.6,269.7 L392.2,274.4 L393.7,279.1 L395.3,276.0 L396.9,279.9 L398.4,277.6 L400.0,271.3 L401.5,269.7 L403.1,277.6 L404.7,269.7 L406.2,269.7 L407.8,269.0 L409.4,269.0 L410.9,271.3 L412.0,240.0 L413.3,255.7 L414.8,247.8 L416.4,255.7 L418.0,261.9 L419.5,246.3 L420.0,248.8 L421.6,253.5 L423.1,256.6 L424.7,261.3 L426.3,264.4 L427.8,270.7 L429.4,278.5 L430.9,275.4 L432.5,273.8 L434.1,276.9 L435.6,276.9 L437.2,274.6 L438.8,273.8 L440.3,269.1 L441.9,274.6 L443.1,273.8 L444.2,239.4 L445.8,228.5 L447.4,222.2 L448.9,223.8 L450.5,228.5 L452.1,217.5 L453.2,206.6 L454.4,214.4 L456.0,223.8 L457.5,226.9 L459.1,237.8 L460.7,242.5 L462.2,246.4 L463.8,245.7 L465.4,244.1 L466.9,241.0 L468.5,246.4 L470.0,250.4 L471.6,251.9 L473.2,247.2 L474.7,245.7 L476.3,247.2 L477.9,248.8 L479.4,251.9 L481.0,248.8 L482.6,244.1 L484.1,241.0 L485.7,228.5 L487.3,236.3 L488.8,234.7 L490.4,247.2 L491.9,249.6 L493.5,248.8 L495.1,250.4 L496.6,251.9 L498.2,251.9 L499.8,251.9 L501.3,252.7 L502.9,251.9 L504.5,252.7 L506.0,252.7 L507.6,251.9 L509.1,251.9 L510.7,253.5 L512.3,254.3 L513.8,255.0 L515.4,255.8 L517.0,251.9 L518.2,264.4 L520.1,275.4 L521.7,283.2 L523.2,286.3 L524.8,289.5 L526.4,294.1 L527.9,297.3 L529.5,298.8 L531.0,286.3 L532.3,272.3 L534.2,273.0 L535.7,273.8 L537.3,276.9 L538.9,278.5 L540.4,275.4 L542.0,281.6 L543.6,284.8 L545.1,284.8 L546.7,289.5 L548.3,292.6 L549.8,289.5 L551.4,283.2 L552.9,281.6 L554.5,278.5 L556.1,276.9 L557.6,278.5 L559.2,281.6 L560.8,283.2 L562.3,286.3 L563.9,284.8 L565.5,281.6 L567.0,281.6 L568.6,282.4 L570.1,281.6 L571.7,283.2 L573.3,283.2 L574.8,284.8 L576.4,286.3 L578.0,287.9 L579.5,289.5 L580.0,289.1 L581.6,288.3 L583.1,289.1 L584.7,287.6 L586.3,282.9 L587.8,283.7 L589.4,282.1 L590.9,281.3 L592.5,287.6 L594.1,290.7 L595.6,293.8 L597.2,296.9 L598.8,297.7 L600.3,298.5 L601.9,301.6 L603.5,302.4 L605.0,300.9 L606.6,301.6 L608.2,300.9 L609.7,303.2 L611.3,306.3 L612.8,305.5 L614.4,307.9 L616.0,309.5 L617.5,310.2 L619.1,298.5 L620.7,293.8 L622.2,295.4 L623.8,301.6 L625.4,303.2 L626.9,300.1 L628.5,289.1 L629.7,287.6 L630.8,295.4 L632.4,298.5 L633.5,290.7 L634.7,296.9 L636.3,300.1 L637.9,292.3 L639.4,282.9 L640.7,279.0 L641.8,282.9 L643.3,286.0 L644.9,292.3 L646.5,293.8 L648.0,287.6 L649.6,293.8 L651.2,296.9 L652.7,300.1 L653.5,288.3 L655.1,293.8 L656.6,298.5 L658.2,300.1 L659.8,295.4 L661.3,292.3 L662.9,289.1 L664.5,292.3 L666.0,295.4 L667.6,298.5 L669.1,300.1 L670.7,301.6 L672.3,298.5 L673.8,296.9 L675.4,298.5 L677.0,303.2 L678.5,304.8 L680.1,306.3 L681.7,309.5 L683.2,311.8 L684.8,312.6 L686.4,314.1 L687.9,300.1 L689.5,301.6 L691.0,289.1 L692.6,295.4 L694.2,301.6 L695.7,293.8 L697.3,287.6 L698.9,295.4 L700.1,287.6 L701.2,279.7 L702.8,275.0 L704.3,248.5 L705.9,259.4 L707.5,239.1 L708.6,248.5 L709.8,250.0 L711.4,261.0 L712.9,261.0 L714.5,262.5 L716.1,267.2 L717.6,270.4 L719.2,271.9 L720.8,273.5 L722.3,274.3 L723.9,269.6 L725.5,275.0 L727.0,265.7 L728.6,271.9 L730.1,278.2 L731.7,281.3 L733.3,282.1 L734.8,282.1 L736.4,279.7 L738.0,271.9 L739.5,268.8 L740.0,263.5 L741.6,257.3 L743.1,251.0 L744.4,249.4 L745.5,261.9 L747.0,261.9 L748.6,263.5 L750.2,265.1 L751.7,266.6 L753.3,268.2 L754.9,271.3 L756.4,269.8 L758.0,269.8 L759.1,246.3 L760.3,247.9 L761.9,244.0 L763.5,243.2 L764.7,242.4 L765.8,244.7 L767.4,252.6 L768.9,263.5 L770.5,258.8 L772.1,249.4 L773.2,246.3 L774.4,252.6 L776.0,258.8 L777.5,261.9 L779.1,265.1 L780.7,268.2 L782.2,271.3 L783.8,274.5 L785.4,274.5 L786.9,276.0 L788.5,277.6 L790.0,280.7 L791.6,282.3 L793.2,283.8 L794.4,283.8 L795.5,269.8 L797.1,271.3 L798.7,272.9 L800.2,266.6 L801.8,263.5 L803.3,260.4 L804.9,263.5 L806.5,266.6 L808.0,243.2 L809.6,221.3 L811.0,208.0 L811.9,196.0 L812.7,183.0 L813.2,172.0 L813.7,163.0 L814.4,168.0 L815.2,178.0 L816.0,186.0 L817.0,187.0 L818.5,190.0 L819.0,205.6 L819.0,218.0 L820.0,220.0 L821.0,225.0 L822.0,229.9 L823.0,230.9 L824.0,232.9 L825.0,235.9 L826.0,238.9 L827.0,240.9 L828.0,241.9 L829.0,243.9 L830.0,245.9 L831.0,248.9 L832.0,250.9 L833.0,249.9 L834.0,247.9 L835.0,251.9 L836.0,251.9 L837.0,250.9 L838.0,252.9 L840.0,253.9 L841.9,255.9 L843.9,255.9 L844.9,253.9 L845.9,256.9 L846.3,254.9 L847.1,254.1 L847.8,260.3 L848.7,261.9 L849.4,263.5 L850.3,265.1 L850.9,266.6 L851.8,268.2 L852.5,269.7 L853.4,269.8 L854.1,266.6 L855.0,263.5 L855.6,263.5 L856.5,261.9 L857.2,261.9 L858.1,260.4 L858.8,255.6 L859.6,258.8 L860.3,261.9 L861.2,266.6 L861.9,265.0 L862.8,269.8 L863.5,271.3 L864.3,271.3 L865.0,269.7 L865.9,269.8 L866.6,263.5 L867.5,263.5 L868.2,260.3 L869.0,274.5 L869.7,276.0 L870.6,279.1 L871.3,280.7 L872.2,280.7 L872.8,281.4 L873.7,282.3 L874.4,282.2 L875.3,283.8 L876.0,283.8 L876.9,283.8 L877.5,285.4 L878.4,283.8 L879.1,286.9 L880.0,285.4 L880.7,287.7 L881.5,285.4 L882.2,288.5 L882.6,285.4 L883.5,268.2 L883.9,277.6 L885.4,276.0 L885.5,276.0 L886.9,276.0 L887.0,274.5 L888.5,271.3 L888.6,271.3 L890.0,268.2 L890.1,269.8 L891.6,277.5 L891.7,280.7 L893.2,283.8 L893.3,283.8 L894.7,285.4 L896.3,286.1 L897.9,288.5 L899.4,293.2 L901.0,296.3 L902.6,297.9 L904.1,302.6 L905.7,305.7 L907.3,305.7 L908.8,302.6 L910.4,304.1 L911.9,301.0 L913.5,299.4 L915.1,298.7 L916.6,297.9 L918.2,297.1 L919.8,296.3 L921.3,294.7 L922.9,293.2 L924.5,294.7 L926.0,294.0 L927.6,292.4 L929.1,290.8 L930.7,289.3 L932.3,289.3 L933.8,283.8 L935.4,290.0 L937.0,288.5 L938.2,284.6 L940.1,290.0 L941.7,291.6 L943.2,291.6 L944.8,290.0 L946.4,286.9 L947.9,290.0 L949.5,288.5 L951.0,294.7 L952.6,301.0 L954.2,303.3 L955.7,304.1 L957.3,303.3 L958.9,305.7 L960.4,307.3 L961.7,308.0 L962.8,297.9 L964.3,291.6 L965.9,299.4 L967.5,299.4 L969.0,301.0 L970.6,302.6 L972.2,297.9 L973.7,296.3 L975.3,294.7 L976.9,283.8 L978.4,286.9 L980.0,291.6 L981.5,294.7 L983.1,285.4 L984.7,288.5 L986.2,272.8 L987.8,283.8 L989.4,294.7 L990.9,307.3 L992.5,316.6 L993.0,315.1 L993.0,315.1 L993.0,435.0 Z" fill="#4f81bd"/>
<rect x="116.2" y="434.6" width="877.8" height="2" fill="#d4d4d4"/>
<rect x="115.30" y="435" width="2" height="7.5" fill="#d4d4d4"/>
<rect x="152.10" y="435" width="2" height="7.5" fill="#d4d4d4"/>
<rect x="188.70" y="435" width="2" height="7.5" fill="#d4d4d4"/>
<rect x="224.60" y="435" width="2" height="7.5" fill="#d4d4d4"/>
<rect x="261.20" y="435" width="2" height="7.5" fill="#d4d4d4"/>
<rect x="296.80" y="435" width="2" height="7.5" fill="#d4d4d4"/>
<rect x="333.40" y="435" width="2" height="7.5" fill="#d4d4d4"/>
<rect x="370.30" y="435" width="2" height="7.5" fill="#d4d4d4"/>
<rect x="407.60" y="435" width="2" height="7.5" fill="#d4d4d4"/>
<rect x="444.60" y="435" width="2" height="7.5" fill="#d4d4d4"/>
<rect x="481.50" y="435" width="2" height="7.5" fill="#d4d4d4"/>
<rect x="518.10" y="435" width="2" height="7.5" fill="#d4d4d4"/>
<rect x="553.70" y="435" width="2" height="7.5" fill="#d4d4d4"/>
<rect x="590.60" y="435" width="2" height="7.5" fill="#d4d4d4"/>
<rect x="627.80" y="435" width="2" height="7.5" fill="#d4d4d4"/>
<rect x="663.70" y="435" width="2" height="7.5" fill="#d4d4d4"/>
<rect x="699.90" y="435" width="2" height="7.5" fill="#d4d4d4"/>
<rect x="736.80" y="435" width="2" height="7.5" fill="#d4d4d4"/>
<rect x="774.00" y="435" width="2" height="7.5" fill="#d4d4d4"/>
<rect x="810.60" y="435" width="2" height="7.5" fill="#d4d4d4"/>
<rect x="847.80" y="435" width="2" height="7.5" fill="#d4d4d4"/>
<rect x="884.60" y="435" width="2" height="7.5" fill="#d4d4d4"/>
<rect x="919.90" y="435" width="2" height="7.5" fill="#d4d4d4"/>
<rect x="957.10" y="435" width="2" height="7.5" fill="#d4d4d4"/>
<g font-family="&quot;Liberation Sans&quot;, sans-serif" font-size="22" fill="#111" letter-spacing="0.15">
<text x="97.00" y="441.60" text-anchor="end">0</text>
<text x="97.00" y="401.20" text-anchor="end">1</text>
<text x="97.00" y="360.80" text-anchor="end">2</text>
<text x="97.00" y="320.40" text-anchor="end">3</text>
<text x="97.00" y="280.00" text-anchor="end">4</text>
<text x="97.00" y="239.60" text-anchor="end">5</text>
<text x="97.00" y="199.20" text-anchor="end">6</text>
<text x="97.00" y="158.80" text-anchor="end">7</text>
<text x="97.00" y="118.40" text-anchor="end">8</text>
<text x="97.00" y="78.00" text-anchor="end">9</text>
<text x="97.00" y="37.60" text-anchor="end">10</text>
<text transform="translate(122.80,450.00) rotate(-90)" text-anchor="end" letter-spacing="0">Apr-12</text>
<text transform="translate(159.60,450.00) rotate(-90)" text-anchor="end" letter-spacing="0">Sep-12</text>
<text transform="translate(196.20,450.00) rotate(-90)" text-anchor="end" letter-spacing="0">Feb-13</text>
<text transform="translate(232.10,450.00) rotate(-90)" text-anchor="end" letter-spacing="0">Jul-13</text>
<text transform="translate(268.70,450.00) rotate(-90)" text-anchor="end" letter-spacing="0">Dec-13</text>
<text transform="translate(304.30,450.00) rotate(-90)" text-anchor="end" letter-spacing="0">May-14</text>
<text transform="translate(340.90,450.00) rotate(-90)" text-anchor="end" letter-spacing="0">Oct-14</text>
<text transform="translate(377.80,450.00) rotate(-90)" text-anchor="end" letter-spacing="0">Mar-15</text>
<text transform="translate(415.10,450.00) rotate(-90)" text-anchor="end" letter-spacing="0">Aug-15</text>
<text transform="translate(452.10,450.00) rotate(-90)" text-anchor="end" letter-spacing="0">Jan-16</text>
<text transform="translate(489.00,450.00) rotate(-90)" text-anchor="end" letter-spacing="0">Jun-16</text>
<text transform="translate(525.60,450.00) rotate(-90)" text-anchor="end" letter-spacing="0">Nov-16</text>
<text transform="translate(561.20,450.00) rotate(-90)" text-anchor="end" letter-spacing="0">Apr-17</text>
<text transform="translate(598.10,450.00) rotate(-90)" text-anchor="end" letter-spacing="0">Sep-17</text>
<text transform="translate(635.30,450.00) rotate(-90)" text-anchor="end" letter-spacing="0">Feb-18</text>
<text transform="translate(671.20,450.00) rotate(-90)" text-anchor="end" letter-spacing="0">Jul-18</text>
<text transform="translate(707.40,450.00) rotate(-90)" text-anchor="end" letter-spacing="0">Dec-18</text>
<text transform="translate(744.30,450.00) rotate(-90)" text-anchor="end" letter-spacing="0">May-19</text>
<text transform="translate(781.50,450.00) rotate(-90)" text-anchor="end" letter-spacing="0">Oct-19</text>
<text transform="translate(818.10,450.00) rotate(-90)" text-anchor="end" letter-spacing="0">Mar-20</text>
<text transform="translate(855.30,450.00) rotate(-90)" text-anchor="end" letter-spacing="0">Aug-20</text>
<text transform="translate(892.10,450.00) rotate(-90)" text-anchor="end" letter-spacing="0">Jan-21</text>
<text transform="translate(927.40,450.00) rotate(-90)" text-anchor="end" letter-spacing="0">Jun-21</text>
<text transform="translate(964.60,450.00) rotate(-90)" text-anchor="end" letter-spacing="0">Nov-21</text>
<text transform="translate(57.00,234.00) rotate(-90)" text-anchor="middle">SPX Proj Yield (%)</text>
<rect x="205.4" y="557.2" width="11.7" height="10.5" fill="#4f81bd"/>
<text x="221.6" y="568.5" letter-spacing="0.3">Equity Prem</text>
<rect x="381.6" y="557.2" width="11.2" height="10.5" fill="#c0504d"/>
<text x="396.8" y="568.5" letter-spacing="0.3">Comp for Inflation</text>
<rect x="612.4" y="557.2" width="11.2" height="10.5" fill="#9bbb59"/>
<text x="629.2" y="568.5" letter-spacing="0.32">Comp for Real Rate</text>
</g>
<rect x="0" y="600" width="1024" height="1" fill="#000"/>
</svg>
</body></html>
